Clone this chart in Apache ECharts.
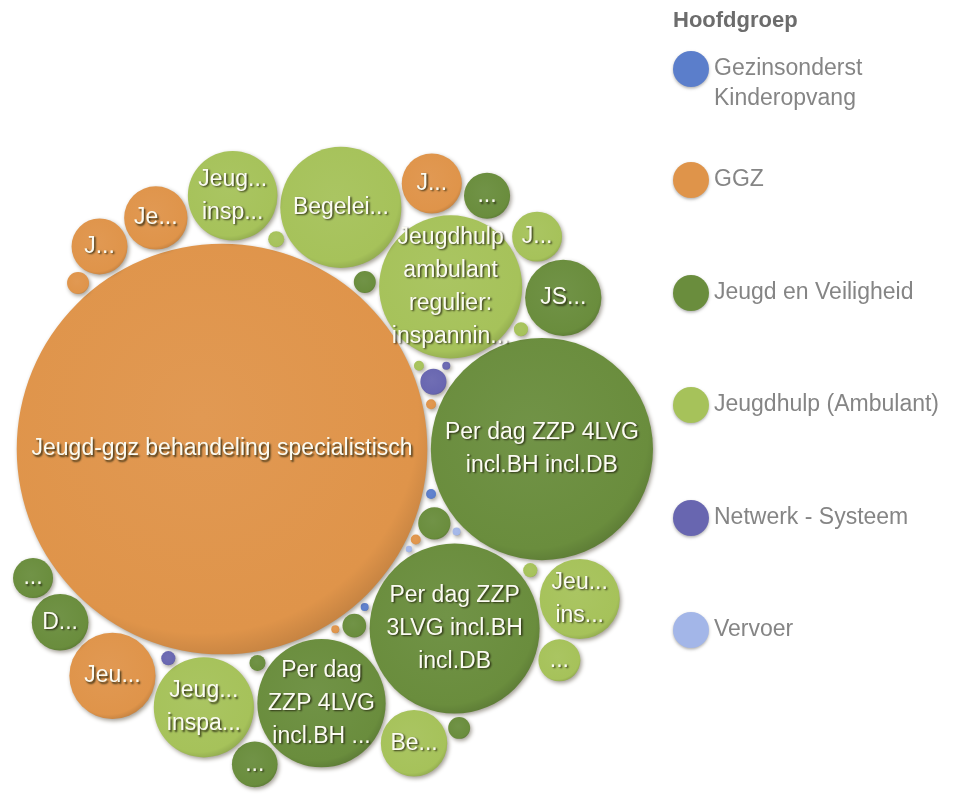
<!DOCTYPE html>
<html>
<head>
<meta charset="utf-8">
<title>Hoofdgroep</title>
<script src="https://cdn.jsdelivr.net/npm/echarts@6/dist/echarts.min.js"></script>
<style>
  html, body { margin: 0; padding: 0; background: #fff; }
  #chart { width: 958px; height: 794px; }
</style>
</head>
<body>
<div id="chart"></div>
<script>
// hoofdgroepen (legend order)
const groups = ['Gezinsonderst Kinderopvang', 'GGZ', 'Jeugd en Veiligheid', 'Jeugdhulp (Ambulant)', 'Netwerk - Systeem', 'Vervoer'];
const groupColors = ['#5b7ecb', '#df944a', '#6a8d3d', '#a6c25a', '#6866b0', '#a3b6e8'];

// producten, largest first (packing order)
const productNames = [
  'Jeugd-ggz behandeling specialistisch',
  'Per dag ZZP 4LVG incl.BH incl.DB',
  'Per dag ZZP 3LVG incl.BH incl.DB',
  'Jeugdhulp ambulant regulier: inspanningsgericht',
  'Per dag ZZP 4LVG incl.BH excl.DB',
  'Begeleiding',
  'Jeugdhulp inspanningsgericht',
  'Jeugdbegeleiding inspanningsgericht',
  'Jeugd-ggz-generalistisch',
  'Jeugdzorg inspanningsgericht',
  'JSL-traject',
  'Begeleidingsgroep',
  'Jeugd-ggz-diagnostiek',
  'Jeugd-ggz-crisis',
  'Dagbehandeling',
  'Jeugd-ggz-kortdurend',
  'Jeugdhulp-licht',
  'Pleegzorg',
  'Gezinshuis',
  'Ambulante spoedhulp',
  'Jeugdreclassering',
  'Crisisopvang',
  'Netwerkberaad',
  'Logeeropvang',
  'Vaktherapie',
  'Nazorg',
  'Jeugd-ggz-consult',
  'Veiligheidsplan',
  'Oudercursus',
  'Trainingsgroep',
  'Gezinscoaching',
  'Systeemtherapie',
  'Gezinsondersteuning',
  'Jeugd-ggz-screening',
  'Jeugd-ggz-intake',
  'Opvoedondersteuning',
  'Kinderopvang SMI',
  'Leerlingenvervoer',
  'Gezinsplan',
  'Jeugd-ggz-eerstelijns',
  'Taxivervoer'
];
const productGroups = [
  'GGZ', 'Jeugd en Veiligheid', 'Jeugd en Veiligheid', 'Jeugdhulp (Ambulant)', 'Jeugd en Veiligheid',
  'Jeugdhulp (Ambulant)', 'Jeugdhulp (Ambulant)', 'Jeugdhulp (Ambulant)', 'GGZ', 'Jeugdhulp (Ambulant)',
  'Jeugd en Veiligheid', 'Jeugdhulp (Ambulant)', 'GGZ', 'GGZ', 'Jeugd en Veiligheid',
  'GGZ', 'Jeugdhulp (Ambulant)', 'Jeugd en Veiligheid', 'Jeugd en Veiligheid', 'Jeugdhulp (Ambulant)',
  'Jeugd en Veiligheid', 'Jeugd en Veiligheid', 'Netwerk - Systeem', 'Jeugd en Veiligheid', 'Jeugd en Veiligheid',
  'Jeugd en Veiligheid', 'GGZ', 'Jeugd en Veiligheid', 'Jeugdhulp (Ambulant)', 'Jeugdhulp (Ambulant)',
  'Jeugdhulp (Ambulant)', 'Netwerk - Systeem', 'Gezinsonderst Kinderopvang', 'GGZ', 'GGZ',
  'Jeugdhulp (Ambulant)', 'Gezinsonderst Kinderopvang', 'Vervoer', 'Netwerk - Systeem', 'GGZ',
  'Vervoer'
];
const productValues = [
  4200, 1230, 720, 510, 410,
  365, 250, 200, 185, 160,
  145, 110, 100, 90, 80,
  78, 62, 53, 52, 44,
  40, 26, 17, 14, 12,
  12, 12, 6.4, 6.4, 5,
  5, 5, 2.5, 2.5, 2.5,
  2.5, 1.6, 1.6, 1.6, 1.6,
  1
];

const FONT = '"Liberation Sans", Arial, sans-serif';
const LABEL_SIZE = 23;
const LINE_H = 33;
const GAP = 1.1;

// greedy circle packing: each circle goes to the tangent spot nearest the area-weighted centre
function pack(radii, gap) {
  const placed = [];
  radii.forEach(function (r, i) {
    if (i === 0) { placed.push({ x: 0, y: 0, r: r }); return; }
    if (i === 1) { placed.push({ x: placed[0].r + r + gap, y: 0, r: r }); return; }
    let sx = 0, sy = 0, sw = 0;
    placed.forEach(function (p) { const w = p.r * p.r; sx += p.x * w; sy += p.y * w; sw += w; });
    const cx = sx / sw, cy = sy / sw;
    let best = null, bestD = Infinity;
    for (let a = 0; a < placed.length; a++) {
      for (let b = a + 1; b < placed.length; b++) {
        const A = placed[a], B = placed[b];
        const ra = A.r + r + gap, rb = B.r + r + gap;
        const dx = B.x - A.x, dy = B.y - A.y, d = Math.hypot(dx, dy);
        if (d > ra + rb || d < Math.abs(ra - rb) || d === 0) continue;
        const l = (ra * ra - rb * rb + d * d) / (2 * d);
        const h = Math.sqrt(Math.max(0, ra * ra - l * l));
        const mx = A.x + dx * l / d, my = A.y + dy * l / d;
        [1, -1].forEach(function (s) {
          const x = mx - s * dy * h / d, y = my + s * dx * h / d;
          for (let k = 0; k < placed.length; k++) {
            const p = placed[k];
            if (Math.hypot(x - p.x, y - p.y) < p.r + r + gap - 1e-6) return;
          }
          const dist = Math.hypot(x - cx, y - cy);
          if (dist < bestD) { bestD = dist; best = { x: x, y: y, r: r }; }
        });
      }
    }
    placed.push(best);
  });
  return placed;
}

const layout = pack(productValues.map(function (v) { return Math.sqrt(v); }), GAP);

// fit the packing into the plot box with equal scales
const box = { left: 13, top: 141, width: 640, height: 652 };
let minX = Infinity, maxX = -Infinity, minY = Infinity, maxY = -Infinity;
layout.forEach(function (c) {
  minX = Math.min(minX, c.x - c.r); maxX = Math.max(maxX, c.x + c.r);
  minY = Math.min(minY, c.y - c.r); maxY = Math.max(maxY, c.y + c.r);
});
const unit = Math.max((maxX - minX) / box.width, (maxY - minY) / box.height);
const midX = (minX + maxX) / 2, midY = (minY + maxY) / 2;

// label fitting
const measureCtx = document.createElement('canvas').getContext('2d');
measureCtx.font = LABEL_SIZE + 'px ' + FONT;
function tw(s) { return measureCtx.measureText(s).width; }
function truncate(s, w) {
  if (tw(s) <= w) return s;
  for (let n = s.length - 1; n > 0; n--) {
    const t = s.slice(0, n) + '...';
    if (tw(t) <= w) return t;
  }
  return tw('...') <= w ? '...' : '';
}
function wrap(words, w) {
  const lines = [];
  let cur = '';
  words.forEach(function (word) {
    const t = cur ? cur + ' ' + word : word;
    if (!cur || tw(t) <= w) cur = t;
    else { lines.push(cur); cur = word; }
  });
  if (cur) lines.push(cur);
  return lines;
}
function fitLabel(name, r) {
  const maxLines = Math.floor(2 * r / LINE_H);
  if (maxLines < 1) return '';
  const w = 2 * r - 19;
  const words = name.split(' ');
  let lines = wrap(words, w);
  if (lines.length > maxLines) {
    lines = lines.slice(0, maxLines - 1).concat([lines.slice(maxLines - 1).join(' ')]);
  }
  lines = lines.map(function (l) { return truncate(l, w); });
  if (lines.every(function (l) { return l === ''; })) return '';
  return lines.join('\n');
}

function shade(hex, f) {
  const n = parseInt(hex.slice(1), 16);
  const ch = [(n >> 16) & 255, (n >> 8) & 255, n & 255].map(function (c) {
    const v = f >= 0 ? c + (255 - c) * f : c * (1 + f);
    return Math.round(Math.max(0, Math.min(255, v)));
  });
  return 'rgb(' + ch.join(',') + ')';
}

function renderBubble(params, api) {
  const idx = api.value(3);
  const c = api.coord([api.value(0), api.value(1)]);
  const rp = api.size([api.value(2), 0])[0];
  const base = groupColors[groups.indexOf(productGroups[idx])];
  const children = [{
    type: 'circle',
    shape: { cx: c[0], cy: c[1], r: rp },
    style: {
      fill: new echarts.graphic.RadialGradient(0.45, 0.42, 0.6, [
        { offset: 0, color: shade(base, 0.05) },
        { offset: 0.88, color: base },
        { offset: 1, color: shade(base, -0.12) }
      ]),
      shadowBlur: 4,
      shadowOffsetX: 1.5,
      shadowOffsetY: 2,
      shadowColor: 'rgba(50,40,20,0.45)'
    }
  }];
  const label = fitLabel(productNames[idx], rp);
  if (label) {
    children.push({
      type: 'text',
      z2: 10,
      style: {
        text: label,
        x: c[0],
        y: c[1],
        align: 'center',
        verticalAlign: 'middle',
        fontSize: LABEL_SIZE,
        fontFamily: FONT,
        lineHeight: LINE_H,
        fill: '#fbfbf2',
        textShadowColor: 'rgba(30,30,10,0.85)',
        textShadowBlur: 2,
        textShadowOffsetX: 1.5,
        textShadowOffsetY: 1.5
      }
    });
  }
  return { type: 'group', children: children };
}

const series = groups.map(function (g) {
  const data = [];
  layout.forEach(function (c, i) {
    if (productGroups[i] === g) data.push([c.x, c.y, c.r, i]);
  });
  return {
    name: g,
    type: 'custom',
    renderItem: renderBubble,
    encode: { x: 0, y: 1 },
    clip: false,
    data: data
  };
});

// one legend block per hoofdgroep so the rows keep an even pitch
const legendCentres = [68, 180, 293, 405, 518, 630];
const legends = groups.map(function (g, i) {
  const twoLines = tw(g) > 240;
  return {
    data: [{ name: g, icon: 'circle' }],
    orient: 'vertical',
    left: 673,
    top: twoLines ? legendCentres[i] - 44 : legendCentres[i] - 18,
    itemWidth: 36,
    itemHeight: 36,
    selectedMode: false,
    padding: 0,
    // an empty first line keeps the icon level with the first text line
    formatter: function (name) { return twoLines ? '\n' + name.replace(' ', '\n') : name; },
    textStyle: {
      fontSize: 23,
      fontFamily: FONT,
      color: '#858585',
      lineHeight: 30
    },
    itemStyle: { shadowBlur: 3, shadowOffsetY: 1.5, shadowColor: 'rgba(0,0,0,0.3)' }
  };
});

const chart = echarts.init(document.getElementById('chart'), null, { renderer: 'canvas' });
chart.setOption({
  animation: false,
  backgroundColor: '#ffffff',
  color: groupColors,
  title: {
    text: 'Hoofdgroep',
    left: 668,
    top: 5,
    textStyle: { fontSize: 22, fontWeight: 'bold', fontFamily: FONT, color: '#6c6c6c' }
  },
  legend: legends,
  tooltip: { show: false },
  grid: box,
  xAxis: { type: 'value', show: false, min: midX - unit * box.width / 2, max: midX + unit * box.width / 2 },
  yAxis: { type: 'value', show: false, inverse: true, min: midY - unit * box.height / 2, max: midY + unit * box.height / 2 },
  series: series
});
</script>
</body>
</html>
